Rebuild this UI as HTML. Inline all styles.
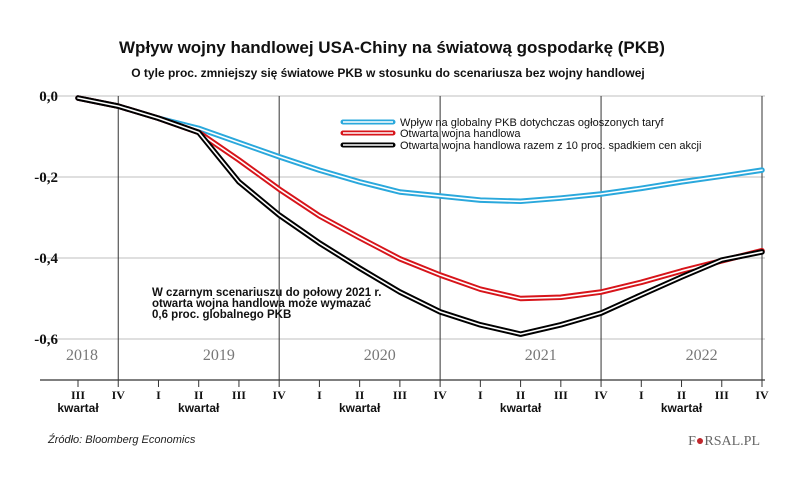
<!DOCTYPE html>
<html><head><meta charset="utf-8"><style>
body{margin:0;background:#fff;width:805px;height:478px;overflow:hidden;font-family:"Liberation Sans",sans-serif}
</style></head><body>
<svg width="805" height="478" id="svg">
<text x="392" y="53" text-anchor="middle" font-size="17" font-weight="bold" fill="#111">Wpływ wojny handlowej USA-Chiny na światową gospodarkę (PKB)</text>
<text x="388" y="77" text-anchor="middle" font-size="12" font-weight="bold" fill="#111">O tyle proc. zmniejszy się światowe PKB w stosunku do scenariusza bez wojny handlowej</text>
<g id="grid"></g><g id="series"></g><g id="xax"></g>
<g font-size="11" fill="#111">
<g><line x1="343" y1="122" x2="393" y2="122" stroke="#2aa8dc" stroke-width="5" stroke-linecap="round"/><line x1="343" y1="122" x2="393" y2="122" stroke="#fff" stroke-width="1.5"/><text x="400" y="126">Wpływ na globalny PKB dotychczas ogłoszonych taryf</text></g>
<g><line x1="343" y1="133" x2="393" y2="133" stroke="#d7141a" stroke-width="5" stroke-linecap="round"/><line x1="343" y1="133" x2="393" y2="133" stroke="#fff" stroke-width="1.5"/><text x="400" y="137">Otwarta wojna handlowa</text></g>
<g><line x1="343" y1="145" x2="393" y2="145" stroke="#000" stroke-width="5" stroke-linecap="round"/><line x1="343" y1="145" x2="393" y2="145" stroke="#fff" stroke-width="1.5"/><text x="400" y="149">Otwarta wojna handlowa razem z 10 proc. spadkiem cen akcji</text></g>
</g>
<g font-size="11.5" font-weight="bold" fill="#111">
<text x="152" y="296">W czarnym scenariuszu do połowy 2021 r.</text>
<text x="152" y="307">otwarta wojna handlowa może wymazać</text>
<text x="152" y="318">0,6 proc. globalnego PKB</text>
</g>
<text x="48" y="443" font-size="11" font-style="italic" fill="#222">Źródło:  Bloomberg Economics</text>
<text x="760" y="445" text-anchor="end" font-size="14" fill="#666" font-family="Liberation Serif">F<tspan fill="#c0282d">●</tspan>RSAL.PL</text>
</svg>
<script>
const quarters=["III","IV","I","II","III","IV","I","II","III","IV","I","II","III","IV","I","II","III","IV"];
const years=["2018","2019","2020","2021","2022"];
const yTicks=[0,-0.2,-0.4,-0.6];
const yTickLabels=["0,0","-0,2","-0,4","-0,6"];
const blue=[-0.005,-0.025,-0.055,-0.08,-0.115,-0.15,-0.183,-0.212,-0.237,-0.247,-0.257,-0.26,-0.252,-0.242,-0.228,-0.212,-0.198,-0.183];
const red=[-0.005,-0.025,-0.055,-0.09,-0.158,-0.23,-0.296,-0.35,-0.402,-0.442,-0.477,-0.5,-0.497,-0.484,-0.46,-0.432,-0.407,-0.382];
const black=[-0.005,-0.025,-0.055,-0.09,-0.212,-0.294,-0.363,-0.425,-0.484,-0.533,-0.565,-0.588,-0.565,-0.536,-0.491,-0.447,-0.405,-0.385];
const NS="http://www.w3.org/2000/svg";
const X=i=>78+i*(684/17);
const Y=v=>96-v*405;
function mk(tag,attrs,parent){const e=document.createElementNS(NS,tag);for(const k in attrs)e.setAttribute(k,attrs[k]);parent.appendChild(e);return e;}
const grid=document.getElementById('grid'),ser=document.getElementById('series'),xax=document.getElementById('xax');
yTicks.forEach((v,i)=>{
 const l=mk('line',{x1:40,x2:765,y1:Y(v),y2:Y(v),stroke:'#ccc','stroke-width':1.2},grid);
 
 
 const t=mk('text',{x:58,y:Y(v)+5,'text-anchor':'end','font-size':15,'font-weight':'bold','font-family':'Liberation Serif',fill:'#111'},grid);
 t.textContent=yTickLabels[i];
 
 
});
quarters.forEach((q,i)=>{
 if(q==="IV"){const v=mk('line',{x1:X(i),x2:X(i),y1:Y(0),y2:380,stroke:'#333','stroke-width':1},grid);
 
 }
 const tk=mk('line',{x1:X(i),x2:X(i),y1:380,y2:387,stroke:'#333'},xax);
 
 
 const t=mk('text',{x:X(i),y:399,'text-anchor':'middle','font-size':12,'font-weight':'bold','font-family':'Liberation Serif',fill:'#111'},xax);
 t.textContent=q;
 
 
 if(q==="II"||i===0){const k=mk('text',{x:X(i),y:412,'text-anchor':'middle','font-size':12,'font-weight':'bold',fill:'#111'},xax);
 k.textContent='kwartał';
 
 }
});
const ax=mk('line',{x1:40,x2:765,y1:380,y2:380,stroke:'#333','stroke-width':1.3},xax);


const yearPos=[0.5,3.5,7.5,11.5,15.5];
years.forEach((y,i)=>{
 const xx=i===0?X(0)+4:X(yearPos[i]);
 const t=mk('text',{x:xx,y:360,'text-anchor':'middle','font-size':16,'font-family':'Liberation Serif',fill:'#777'},xax);
 t.textContent=y;
 
 
});
[[blue,'#2aa8dc','series-blue'],[red,'#d7141a','series-red'],[black,'#000','series-black']].forEach(([d,c,n])=>{
 const pts=d.map((v,i)=>X(i)+','+Y(v)).join(' ');
 const g=mk('g',{},ser);
 
 
 mk('polyline',{points:pts,fill:'none',stroke:c,'stroke-width':5.5,'stroke-linejoin':'round','stroke-linecap':'round'},g);
 mk('polyline',{points:pts,fill:'none',stroke:'#fff','stroke-width':1.6,'stroke-linejoin':'round','stroke-linecap':'round'},g);
});
</script>
</body></html>
